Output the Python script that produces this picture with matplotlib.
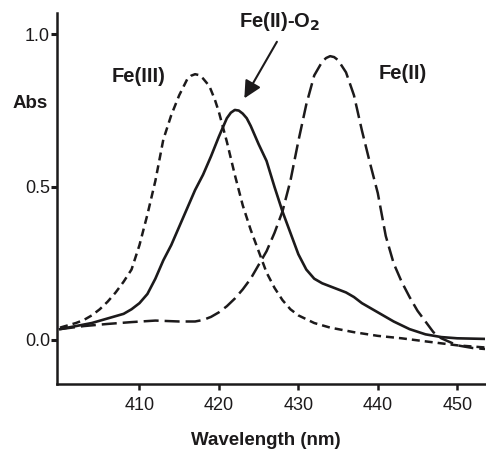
import numpy as np
import matplotlib
matplotlib.use('Agg')
import matplotlib.pyplot as plt

plt.rcParams['font.family'] = ['Liberation Sans', 'DejaVu Sans']

# Fe(III) - short dashes
wl_fe3 = [400, 402, 403, 404, 405, 406, 407, 408, 409, 410, 411, 412, 413, 414,
          415, 416, 416.5, 417, 417.5, 418, 418.8, 419.5, 420, 421, 422, 423,
          424, 425, 426, 427, 428, 429, 430, 432, 434, 437, 440, 443, 446, 450,
          453.5]
abs_fe3 = [0.04, 0.055, 0.065, 0.08, 0.10, 0.125, 0.155, 0.19, 0.23, 0.31, 0.41,
           0.52, 0.655, 0.735, 0.80, 0.852, 0.864, 0.869, 0.866, 0.855, 0.83,
           0.785, 0.745, 0.648, 0.54, 0.44, 0.36, 0.29, 0.22, 0.17, 0.13, 0.10,
           0.08, 0.055, 0.04, 0.025, 0.013, 0.005, -0.005, -0.018, -0.025]

# Fe(II)-O2 - solid
wl_o2 = [400, 402, 404, 406, 408, 409, 410, 411, 412, 413, 414, 415, 416, 417,
         418, 419, 420, 421, 421.5, 422, 422.5, 423, 423.5, 424, 425, 426, 427,
         428, 429, 430, 431, 432, 433, 434, 435, 436, 437, 438, 440, 442, 444,
         446, 448, 450, 453.5]
abs_o2 = [0.035, 0.045, 0.055, 0.07, 0.085, 0.10, 0.12, 0.15, 0.20, 0.26, 0.31,
          0.37, 0.43, 0.49, 0.54, 0.60, 0.665, 0.725, 0.743, 0.752, 0.75, 0.74,
          0.725, 0.70, 0.64, 0.585, 0.50, 0.42, 0.35, 0.28, 0.23, 0.20, 0.185,
          0.175, 0.165, 0.155, 0.14, 0.12, 0.09, 0.06, 0.035, 0.018, 0.009,
          0.005, 0.003]

# Fe(II) - long dashes
wl_fe2 = [400, 403, 406, 409, 412, 415, 417, 418, 419, 420, 421, 422, 423, 424,
          425, 426, 427, 428, 429, 430, 431, 432, 433, 433.5, 434, 434.5, 435,
          436, 437, 438, 439, 440, 441, 442, 443, 444, 445, 446, 447, 448, 450,
          452, 453.5]
abs_fe2 = [0.035, 0.045, 0.052, 0.058, 0.063, 0.06, 0.06, 0.065, 0.075, 0.09,
           0.11, 0.135, 0.165, 0.20, 0.245, 0.29, 0.35, 0.42, 0.52, 0.65, 0.77,
           0.865, 0.91, 0.922, 0.928, 0.925, 0.915, 0.875, 0.80, 0.685, 0.58,
           0.48, 0.34, 0.25, 0.19, 0.14, 0.095, 0.06, 0.025, 0.005, -0.018,
           -0.027, -0.03]

xticks = [410, 420, 430, 440, 450]
yticks = [0.0, 0.5, 1.0]

ink = '#1c1a1b'

fig = plt.figure(figsize=(4.86, 4.5), dpi=100)
ax = fig.add_axes([0.117, 0.147, 0.881, 0.824])

ax.plot(wl_fe3, abs_fe3, color=ink, lw=1.8, dashes=(3.2, 2.0))
ax.plot(wl_o2, abs_o2, color=ink, lw=1.9)
ax.plot(wl_fe2, abs_fe2, color=ink, lw=1.8, dashes=(6.0, 2.4))

ax.set_xlim(399.6, 453.5)
ax.set_ylim(-0.144, 1.069)
ax.set_xticks(xticks)
ax.set_xticklabels([str(t) for t in xticks])
ax.set_yticks(yticks)
ax.set_yticklabels(['%.1f' % t for t in yticks])

for s in ['top', 'right']:
    ax.spines[s].set_visible(False)
for s in ['left', 'bottom']:
    ax.spines[s].set_linewidth(1.8)
    ax.spines[s].set_color(ink)

ax.tick_params(axis='x', direction='out', length=4.5, width=1.8, pad=5,
               labelsize=13, colors=ink)
ax.tick_params(axis='y', direction='out', length=4, width=2.2, pad=1,
               labelsize=13, colors=ink)

ax.text(409.9, 0.86, 'Fe(III)', ha='center', va='center', fontsize=14.5,
        fontweight='bold', color=ink)
ax.text(443.1, 0.87, 'Fe(II)', ha='center', va='center', fontsize=14.5,
        fontweight='bold', color=ink)
ax.text(427.7, 1.04, 'Fe(II)-O$_\\mathbf{2}$', ha='center', va='center',
        fontsize=14.5, fontweight='bold', color=ink)
ax.annotate('', xy=(423.2, 0.79), xytext=(427.3, 0.975),
            arrowprops=dict(arrowstyle='-|>', color=ink, lw=1.5,
                            mutation_scale=26, shrinkA=0, shrinkB=0))

fig.text(0.062, 0.771, 'Abs', ha='center', va='center', fontsize=13.5,
         fontweight='bold', color=ink)
fig.text(0.547, 0.022, 'Wavelength (nm)', ha='center', va='center',
         fontsize=13.5, fontweight='bold', color=ink)

fig.savefig('out.png', dpi=100, facecolor='white')
